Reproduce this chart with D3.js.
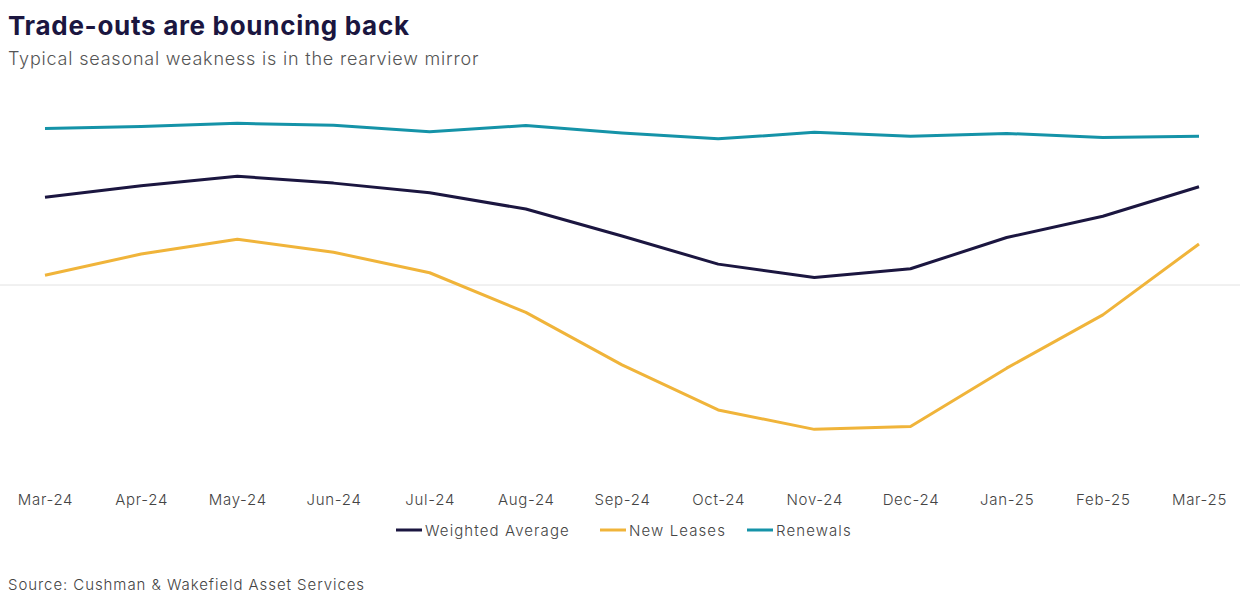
<!DOCTYPE html>
<html>
<head>
<meta charset="utf-8">
<script src="https://cdn.jsdelivr.net/npm/d3@7"></script>
<style>
  body { margin: 0; background: #fff; }
  svg text { font-family: "Inter", "Open Sans", sans-serif; }
</style>
</head>
<body>
<div id="chart"></div>
<script>
// Data (trade-out, %)
var months = ["Mar-24","Apr-24","May-24","Jun-24","Jul-24","Aug-24","Sep-24",
              "Oct-24","Nov-24","Dec-24","Jan-25","Feb-25","Mar-25"];
var weightedAverage = [2.44, 2.76, 3.02, 2.83, 2.56, 2.11, 1.36, 0.58, 0.21, 0.45, 1.32, 1.91, 2.73];
var newLeases = [0.27, 0.86, 1.27, 0.91, 0.34, -0.76, -2.22, -3.47, -4.01, -3.93, -2.31, -0.83, 1.14];
var renewals = [4.35, 4.40, 4.49, 4.44, 4.26, 4.43, 4.22, 4.06, 4.24, 4.13, 4.21, 4.10, 4.13];

var seriesNames = ["Weighted Average", "New Leases", "Renewals"];
var seriesColors = ["#1b1640", "#f0b43a", "#1593a8"];
var seriesValues = [weightedAverage, newLeases, renewals];

var width = 1240;
var height = 604;

var svg = d3.select("#chart")
    .append("svg")
    .attr("width", width)
    .attr("height", height);

// Title block
svg.append("text")
    .attr("x", 8)
    .attr("y", 35)
    .attr("font-size", 26)
    .attr("font-weight", 700)
    .attr("letter-spacing", 0.7)
    .attr("fill", "#1b1640")
    .text("Trade-outs are bouncing back");

svg.append("text")
    .attr("x", 8)
    .attr("y", 65)
    .attr("font-size", 18)
    .attr("font-weight", 300)
    .attr("letter-spacing", 0.8)
    .attr("fill", "#555")
    .text("Typical seasonal weakness is in the rearview mirror");

// Scales
var x = d3.scalePoint()
    .domain(months)
    .range([45, 1199]);

var y = d3.scaleLinear()
    .domain([-5, 5])
    .range([465, 105]);

// zero line
svg.append("line")
    .attr("x1", 0)
    .attr("x2", width)
    .attr("y1", y(0))
    .attr("y2", y(0))
    .attr("stroke", "#e2e2e2")
    .attr("stroke-width", 1);

// x axis labels
var xAxis = d3.axisBottom(x).tickSize(0).tickPadding(0);
var xg = svg.append("g")
    .attr("transform", "translate(0,494)")
    .call(xAxis);
xg.select(".domain").remove();
xg.selectAll("text")
    .attr("font-size", 15)
    .attr("fill", "#444")
    .attr("font-family", "Inter, sans-serif")
    .attr("font-weight", 300)
    .attr("letter-spacing", 0.7);

// lines
var line = d3.line()
    .x(function(d, i) { return x(months[i]); })
    .y(function(d) { return y(d); });

seriesValues.forEach(function(vals, i) {
    svg.append("path")
        .datum(vals)
        .attr("fill", "none")
        .attr("stroke", seriesColors[i])
        .attr("stroke-width", 3)
        .attr("stroke-linejoin", "round")
        .attr("d", line);
});

// legend
var legendX = [396, 600, 747];
var legend = svg.append("g").attr("class", "legend");
seriesNames.forEach(function(name, i) {
    var g = legend.append("g")
        .attr("transform", "translate(" + legendX[i] + ",530)");
    g.append("line")
        .attr("x1", 0)
        .attr("x2", 26)
        .attr("stroke", seriesColors[i])
        .attr("stroke-width", 3);
    g.append("text")
        .attr("x", 29)
        .attr("y", 5.5)
        .attr("font-size", 15)
        .attr("font-weight", 300)
        .attr("letter-spacing", 1.1)
        .attr("fill", "#444")
        .text(name);
});

// source
svg.append("text")
    .attr("x", 8)
    .attr("y", 590)
    .attr("font-size", 15)
    .attr("font-weight", 300)
    .attr("letter-spacing", 0.93)
    .attr("fill", "#444")
    .text("Source: Cushman & Wakefield Asset Services");
</script>
</body>
</html>
